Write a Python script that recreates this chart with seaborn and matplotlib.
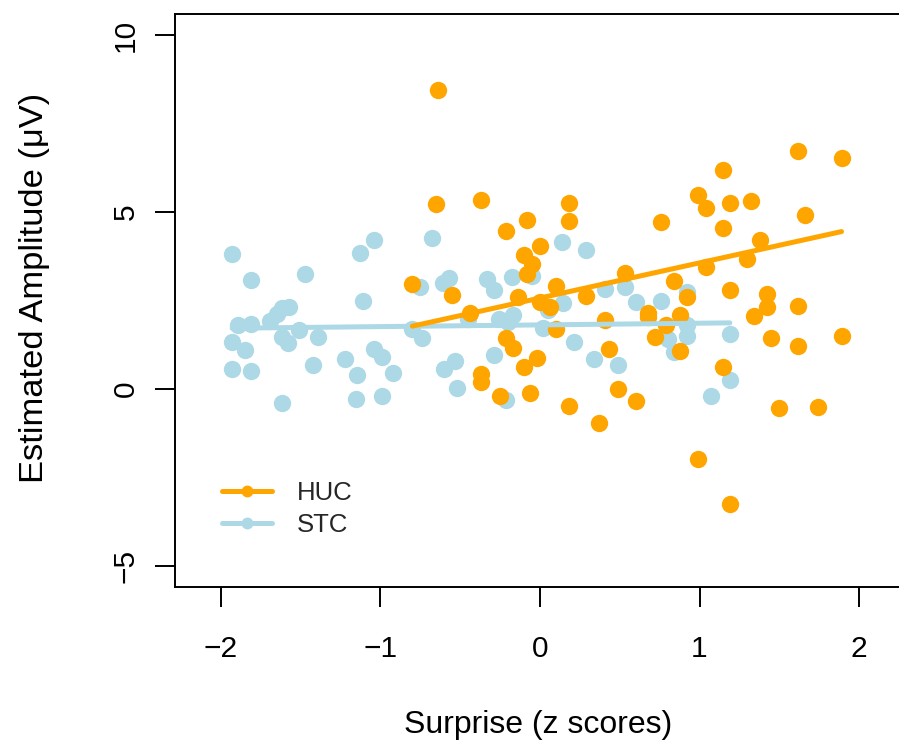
import matplotlib
matplotlib.use("Agg")
import matplotlib.pyplot as plt
from matplotlib.lines import Line2D
import numpy as np
import pandas as pd
import seaborn as sns

# Surprise (z) and estimated amplitude (uV) per trial bin, by recording region
huc_x = [-0.64, -0.65, -0.37, -0.80, -0.55, -0.44, -0.21, -0.08, 0.00, -0.10,
         -0.05, -0.08, -0.14, 0.10, 0.00, 0.06, 0.18, 0.18, 0.29, 0.10,
         -0.21, -0.17, -0.10, -0.02, -0.37, -0.37, -0.25, -0.06, 0.18, 0.37,
         0.41, 0.43, 0.49, 0.53, 0.60, 0.68, 0.68, 0.72, 0.76, 0.79,
         0.84, 0.88, 0.875, 0.92, 0.99, 1.04, 1.04, 0.99, 1.15, 1.15,
         1.19, 1.19, 1.15, 1.19, 1.32, 1.30, 1.38, 1.42, 1.42, 1.34,
         1.45, 1.50, 1.62, 1.66, 1.62, 1.62, 1.74, 1.89, 1.89]
huc_y = [8.44, 5.23, 5.35, 2.97, 2.66, 2.15, 4.47, 4.79, 4.03, 3.80,
         3.54, 3.26, 2.60, 2.92, 2.46, 2.33, 5.27, 4.76, 2.63, 1.70,
         1.43, 1.15, 0.61, 0.87, 0.42, 0.20, -0.21, -0.12, -0.47, -0.96,
         1.94, 1.12, 0.00, 3.27, -0.35, 2.15, 2.02, 1.48, 4.71, 1.80,
         3.06, 2.09, 1.06, 2.59, 5.49, 5.12, 3.46, -1.99, 6.20, 4.55,
         5.25, 2.81, 0.61, -3.24, 5.31, 3.68, 4.20, 2.67, 2.31, 2.06,
         1.44, -0.55, 6.72, 4.91, 2.34, 1.20, -0.51, 6.52, 1.50]

stc_x = [-1.93, -1.81, -1.89, -1.81, -1.93, -1.85, -1.93, -1.81, -1.69, -1.65,
         -1.62, -1.575, -1.62, -1.58, -1.51, -1.47, -1.39, -1.42, -1.62, -1.225,
         -1.15, -1.155, -1.13, -1.11, -1.04, -1.04, -0.99, -0.99, -0.92, -0.68,
         -0.75, -0.80, -0.74, -0.61, -0.57, -0.60, -0.53, -0.52, -0.45, -0.33,
         -0.29, -0.26, -0.29, -0.21, -0.175, -0.17, -0.20, -0.05, 0.05, 0.02,
         0.14, 0.145, 0.21, 0.29, 0.34, 0.41, 0.49, 0.53, 0.60, 0.76,
         0.80, 0.84, 0.92, 0.92, 0.92, 1.07, 1.19, 1.19]
stc_y = [3.81, 3.08, 1.80, 1.84, 1.33, 1.10, 0.56, 0.51, 1.93, 2.13,
         2.28, 2.31, 1.47, 1.29, 1.67, 3.25, 1.47, 0.69, -0.40, 0.85,
         0.39, -0.28, 3.84, 2.49, 4.21, 1.12, 0.91, -0.20, 0.44, 4.26,
         2.88, 1.70, 1.43, 3.00, 3.15, 0.57, 0.78, 0.04, 1.97, 3.12,
         2.81, 1.99, 0.95, -0.30, 3.16, 2.08, 1.90, 3.18, 2.23, 1.72,
         4.14, 2.44, 1.33, 3.94, 0.86, 2.83, 0.69, 2.89, 2.45, 2.49,
         1.40, 1.03, 2.74, 1.80, 1.50, -0.21, 1.55, 0.24]

regions = ["HUC", "STC"]
colors = {"HUC": "#FFA500", "STC": "#ADD8E6"}
# Model-estimated fixed effects per region (amplitude = intercept + slope * surprise)
fit_intercept = [2.57, 1.81]
fit_slope = [0.994, 0.048]

df = pd.concat([
    pd.DataFrame({"surprise": huc_x, "amplitude": huc_y, "region": "HUC"}),
    pd.DataFrame({"surprise": stc_x, "amplitude": stc_y, "region": "STC"}),
], ignore_index=True)

sns.set_theme(style="white")
plt.rcParams["font.family"] = ["Liberation Sans", "DejaVu Sans"]

fig = plt.figure(figsize=(8.99, 7.42), dpi=100)
ax = fig.add_axes([175 / 899, 155 / 742, 730 / 899, 573 / 742])

# STC underneath, HUC on top; each fitted line spans that region's surprise range
for reg in ["STC", "HUC"]:
    i = regions.index(reg)
    sub = df[df["region"] == reg]
    sns.scatterplot(data=sub, x="surprise", y="amplitude", color=colors[reg],
                    s=156, linewidth=0, alpha=1, ax=ax, legend=False, zorder=2)
    xs = np.array([sub["surprise"].min(), sub["surprise"].max()])
    fit = pd.DataFrame({"surprise": xs,
                        "amplitude": fit_intercept[i] + fit_slope[i] * xs})
    sns.lineplot(data=fit, x="surprise", y="amplitude", color=colors[reg],
                 linewidth=3.6, solid_capstyle="round", ax=ax, zorder=3)

ax.set_xlim(-2.288, 2.288)
ax.set_ylim(-5.6, 10.6)
ax.set_xticks([-2, -1, 0, 1, 2])
ax.set_yticks([-5, 0, 5, 10])
ax.set_xticklabels(["\u22122", "\u22121", "0", "1", "2"])
ax.set_yticklabels(["\u22125", "0", "5", "10"])

for sp in ax.spines.values():
    sp.set_visible(True)
    sp.set_color("black")
    sp.set_linewidth(1.4)

ax.tick_params(axis="both", direction="out", length=14.4, width=1.4,
               color="black", labelsize=21.5, labelcolor="black",
               bottom=True, left=True)
ax.tick_params(axis="x", pad=20)
ax.tick_params(axis="y", pad=11, labelrotation=90)
for lab in ax.get_yticklabels():
    lab.set_verticalalignment("center")

ax.set_xlabel("Surprise (z scores)", fontsize=23, color="black")
ax.set_ylabel("Estimated Amplitude (\u03bcV)", fontsize=24.8, color="black")
ax.xaxis.set_label_coords(0.498, -0.215)
ax.yaxis.set_label_coords(-0.171, 0.522)

handles = [Line2D([0], [0], color=colors[r], linewidth=3.6, marker="o",
                  markersize=7.5, solid_capstyle="round") for r in regions]
ax.legend(handles, regions, loc="center left", bbox_to_anchor=(0.0644, 0.136),
          frameon=False, fontsize=18.5, handlelength=1.95, handletextpad=0.95,
          labelspacing=0.3, borderpad=0, borderaxespad=0)

ax.grid(False)
fig.savefig("out.png", dpi=100, facecolor="white")
